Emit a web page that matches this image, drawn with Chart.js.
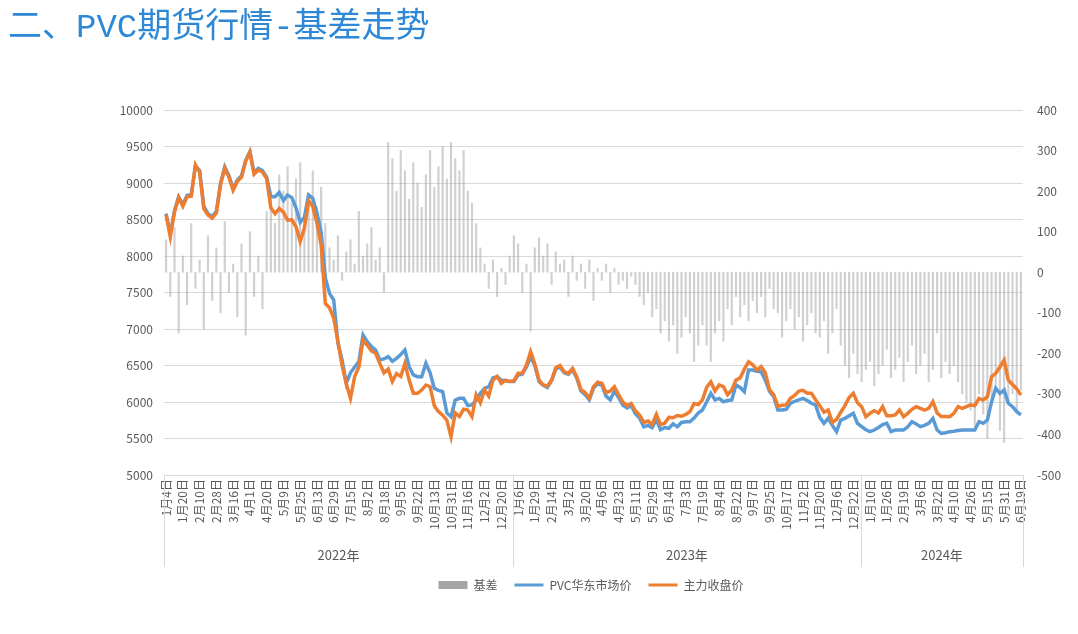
<!DOCTYPE html>
<html>
<head>
<meta charset="utf-8">
<title>PVC期货行情-基差走势</title>
<script src="https://cdn.jsdelivr.net/npm/chart.js@4.4.1/dist/chart.umd.min.js"></script>
<style>
    html, body { margin: 0; padding: 0; background: #fff; }
    #wrap { position: relative; width: 1078px; height: 634px; overflow: hidden; }
    #title {
        position: absolute; left: 8px; top: 8px;
        font-family: "Liberation Mono", "Noto Sans CJK SC", sans-serif;
        font-size: 34px; line-height: 40px; color: #2f88d6; white-space: nowrap;
    }
    #c { position: absolute; left: 0; top: 0; }
</style>
</head>
<body>
<div id="wrap">
    <canvas id="c" width="1078" height="634"></canvas>
    <div id="title">二、PVC期货行情-基差走势</div>
</div>
<script>
// --- DATA ---
// one point every 3 trading days, a date label every 4 points
const labelStep = 4;

const tickLabels = [
    '1月4日', '1月20日', '2月10日', '2月28日', '3月16日', '4月1日', '4月20日', '5月9日', '5月25日', '6月13日',
    '6月29日', '7月15日', '8月2日', '8月18日', '9月5日', '9月22日', '10月13日', '10月31日', '11月16日', '12月2日',
    '12月20日',
    '1月6日', '1月29日', '2月14日', '3月2日', '3月20日', '4月6日', '4月23日', '5月11日', '5月29日', '6月14日',
    '7月3日', '7月19日', '8月4日', '8月22日', '9月7日', '9月25日', '10月17日', '11月2日', '11月20日', '12月6日',
    '12月22日',
    '1月10日', '1月26日', '2月19日', '3月6日', '3月22日', '4月10日', '4月26日', '5月15日', '5月31日', '6月19日'
];

const yearLabels = ['2022年', '2023年', '2024年'];
const yearBreaks = [82.8, 165.8];   // category positions where a new year starts

const spotPrice = [   // PVC华东市场价
    8580, 8300, 8620, 8810, 8700, 8830, 8840, 9230, 9170, 8680,
    8580, 8540, 8610, 9000, 9220, 9100, 8920, 9040, 9100, 9310,
    9430, 9140, 9200, 9170, 9080, 8812, 8812, 8870, 8760, 8836,
    8800, 8660, 8460, 8530, 8836, 8790, 8590, 8330, 7700, 7489,
    7397, 6808, 6575, 6260, 6400, 6480, 6552, 6918, 6826, 6760,
    6712, 6575, 6590, 6621, 6560, 6598, 6650, 6712, 6484, 6370,
    6347, 6347, 6530, 6400, 6187, 6160, 6142, 5850, 5799, 6027,
    6050, 6050, 5950, 5960, 6027, 6119, 6187, 6210, 6330, 6347,
    6300, 6290, 6280, 6280, 6370, 6380, 6480, 6620, 6500, 6280,
    6230, 6200, 6290, 6450, 6480, 6400, 6380, 6440, 6330, 6150,
    6100, 6030, 6190, 6250, 6230, 6080, 6030, 6150, 6060, 5960,
    5920, 5950, 5840, 5780, 5660, 5680, 5650, 5760, 5620, 5650,
    5640, 5700, 5660, 5720, 5730, 5730, 5780, 5850, 5890, 6000,
    6119, 6030, 6050, 6004, 6020, 6027, 6233, 6200, 6142, 6438,
    6438, 6420, 6415, 6300, 6150, 6073, 5890, 5890, 5900, 5982,
    6010, 6030, 6050, 6020, 5982, 5959, 5790, 5708, 5776, 5680,
    5594, 5753, 5776, 5810, 5845, 5708, 5662, 5620, 5594, 5616,
    5650, 5690, 5708, 5594, 5616, 5616, 5616, 5660, 5730, 5700,
    5662, 5680, 5708, 5776, 5616, 5571, 5580, 5594, 5600, 5610,
    5616, 5616, 5616, 5616, 5730, 5708, 5753, 6004, 6187, 6119,
    6164, 5982, 5936, 5867, 5822
];

const futuresClose = [   // 主力收盘价
    8562, 8264, 8600, 8800, 8680, 8812, 8820, 9250, 9150, 8650,
    8560, 8520, 8590, 8980, 9200, 9080, 8900, 9020, 9080, 9300,
    9420, 9120, 9178, 9150, 9060, 8660, 8580, 8650, 8600, 8490,
    8495, 8400, 8200, 8380, 8760, 8680, 8450, 8150, 7350, 7290,
    7150, 6830, 6500, 6250, 6050, 6347, 6480, 6849, 6780, 6700,
    6667, 6530, 6400, 6450, 6280, 6390, 6350, 6530, 6300, 6119,
    6119, 6164, 6233, 6210, 5950, 5870, 5820, 5750, 5525, 5850,
    5800, 5900, 5890, 5800, 6100, 5990, 6164, 6080, 6300, 6350,
    6256, 6300, 6280, 6290, 6393, 6393, 6507, 6689, 6520, 6300,
    6233, 6220, 6300, 6470, 6500, 6415, 6393, 6461, 6347, 6170,
    6130, 6050, 6210, 6270, 6256, 6130, 6150, 6210, 6100, 6000,
    5950, 5980, 5880, 5820, 5720, 5740, 5690, 5830, 5690, 5708,
    5790, 5785, 5815, 5805, 5830, 5867, 5980, 5965, 6030, 6200,
    6275, 6150, 6233, 6210, 6100, 6164, 6300, 6330, 6450, 6552,
    6510, 6438, 6484, 6400, 6170, 6100, 5940, 5955, 5960, 6050,
    6090, 6150, 6160, 6120, 6119, 6030, 5950, 5860, 5890, 5720,
    5760, 5860, 5950, 6060, 6119, 5990, 5936, 5800, 5845, 5880,
    5850, 5936, 5810, 5810, 5822, 5890, 5800, 5845, 5900, 5936,
    5913, 5890, 5913, 6004, 5850, 5800, 5800, 5799, 5845, 5936,
    5913, 5936, 5960, 5950, 6050, 6027, 6073, 6347, 6393, 6480,
    6575, 6300, 6240, 6180, 6096
];

const basis = [   // 基差
    80, -60, 110, -150, 40, -80, 120, -40, 30, -140,
    90, -70, 60, -100, 125, -50, 20, -110, 70, -155,
    100, -60, 40, -90, 150, 180, 120, 240, 200, 260,
    170, 230, 270, 140, 190, 250, 160, 210, 120, 60,
    30, 90, -20, 50, 80, 20, 150, 40, 70, 110,
    30, 60, -50, 320, 280, 200, 300, 250, 180, 270,
    220, 160, 240, 300, 210, 260, 310, 230, 320, 280,
    250, 300, 200, 170, 120, 60, 20, -40, 30, -60,
    10, -30, 40, 90, 70, -50, 20, -145, 60, 85,
    40, 70, -30, 50, 20, 30, -60, 40, -20, 20,
    -40, 30, -70, 10, -20, 20, -50, 10, -30, -20,
    -40, -10, -30, -60, -80, -50, -110, -90, -150, -120,
    -170, -130, -200, -160, -110, -150, -220, -180, -130, -180,
    -220, -150, -120, -170, -90, -130, -60, -110, -80, -120,
    -70, -100, -60, -110, -40, -90, -100, -160, -120, -90,
    -140, -110, -170, -130, -100, -150, -160, -120, -200, -150,
    -90, -180, -230, -260, -200, -250, -270, -240, -220, -280,
    -250, -230, -190, -260, -240, -210, -270, -220, -180, -250,
    -230, -200, -270, -240, -150, -260, -220, -250, -230, -270,
    -300, -320, -340, -380, -300, -350, -410, -330, -280, -390,
    -420, -320, -300, -340, -290
];

const categories = basis.map((_, i) => i);

const FONT = "'Noto Sans CJK SC', 'Noto Sans', sans-serif";
const TEXT_COLOR = '#595959';
const GRID_COLOR = '#d9d9d9';

// --- YEAR ROW UNDER THE DATE LABELS ---
const yearAxisPlugin = {
    id: 'yearAxis',
    afterDraw(chart) {
        const { ctx, chartArea } = chart;
        const x = chart.scales.x;
        const bounds = [x.left].concat(yearBreaks.map(b => x.getPixelForValue(b)), [x.right]);
        ctx.save();
        ctx.strokeStyle = GRID_COLOR;
        ctx.lineWidth = 1;
        bounds.forEach(px => {
            const xx = Math.round(px) + 0.5;
            ctx.beginPath();
            ctx.moveTo(xx, chartArea.bottom);
            ctx.lineTo(xx, 567);
            ctx.stroke();
        });
        ctx.fillStyle = TEXT_COLOR;
        ctx.font = '13px ' + FONT;
        ctx.textAlign = 'center';
        ctx.textBaseline = 'middle';
        yearLabels.forEach((t, k) => ctx.fillText(t, (bounds[k] + bounds[k + 1]) / 2, 555));
        ctx.restore();
    }
};

new Chart(document.getElementById('c'), {
    data: {
        labels: categories,
        datasets: [
            {
                type: 'bar',
                label: '基差',
                data: basis,
                yAxisID: 'y2',
                backgroundColor: 'rgba(170,170,170,0.55)',
                borderWidth: 0,
                barThickness: 1.5,
                order: 3
            },
            {
                type: 'line',
                label: 'PVC华东市场价',
                data: spotPrice,
                yAxisID: 'y',
                borderColor: '#5B9BD5',
                borderWidth: 3.5,
                pointRadius: 0,
                fill: false,
                order: 2
            },
            {
                type: 'line',
                label: '主力收盘价',
                data: futuresClose,
                yAxisID: 'y',
                borderColor: '#ED7D31',
                borderWidth: 3.5,
                pointRadius: 0,
                fill: false,
                order: 1
            }
        ]
    },
    options: {
        responsive: false,
        animation: false,
        devicePixelRatio: 1,
        // left padding pushes the legend centre to the right, as in the original
        layout: { padding: { top: 110, left: 104, right: 0, bottom: 33 } },
        scales: {
            x: {
                type: 'category',
                offset: true,
                grid: { display: false, drawTicks: false },
                border: { display: true, color: GRID_COLOR },
                ticks: {
                    autoSkip: false,
                    minRotation: 90,
                    maxRotation: 90,
                    padding: 4,
                    color: TEXT_COLOR,
                    font: { size: 12, family: FONT },
                    callback: (v, i) => (i % labelStep === 0 ? tickLabels[i / labelStep] : null)
                },
                afterFit(s) { s.height = 87; }
            },
            y: {
                position: 'left',
                min: 5000,
                max: 10000,
                ticks: {
                    stepSize: 500, padding: 11, color: TEXT_COLOR,
                    font: { size: 12, family: FONT },
                    callback: v => String(v)
                },
                grid: { color: GRID_COLOR, drawTicks: false },
                border: { display: false },
                afterFit(s) { s.width = 60; }
            },
            y2: {
                position: 'right',
                min: -500,
                max: 400,
                ticks: {
                    stepSize: 100, padding: 14, color: TEXT_COLOR,
                    font: { size: 12, family: FONT },
                    callback: v => String(v)
                },
                grid: { display: false, drawTicks: false },
                border: { display: false },
                afterFit(s) { s.width = 55; }
            }
        },
        plugins: {
            tooltip: { enabled: false },
            legend: {
                position: 'bottom',
                reverse: true,
                labels: {
                    usePointStyle: true,
                    pointStyleWidth: 29,
                    boxHeight: 8,
                    padding: 17,
                    color: TEXT_COLOR,
                    font: { size: 12, family: FONT },
                    generateLabels(chart) {
                        const items = Chart.defaults.plugins.legend.labels.generateLabels(chart);
                        items.forEach(it => {
                            const ds = chart.data.datasets[it.datasetIndex];
                            if (ds.type === 'bar') {
                                it.pointStyle = 'rect';
                                it.fillStyle = '#a5a5a5';
                                it.strokeStyle = '#a5a5a5';
                                it.lineWidth = 0;
                            } else {
                                it.pointStyle = 'line';
                                it.strokeStyle = ds.borderColor;
                                it.lineWidth = 3;
                            }
                        });
                        return items;
                    }
                }
            }
        }
    },
    plugins: [yearAxisPlugin]
});
</script>
</body>
</html>
